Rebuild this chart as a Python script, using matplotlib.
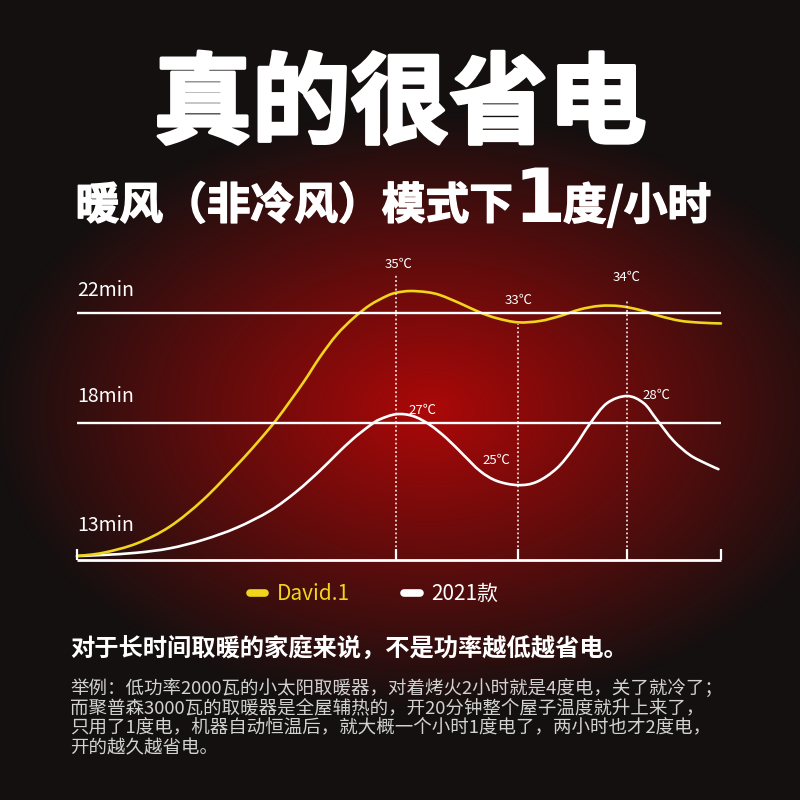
import matplotlib.pyplot as plt
import matplotlib.patheffects as pe
import numpy as np
from matplotlib.lines import Line2D
from matplotlib.path import Path
from matplotlib.patches import PathPatch

plt.rcParams['font.family'] = ['Noto Sans CJK SC', 'DejaVu Sans']

# time along the axis (0-100) and heat-up time in minutes
t_david = [0, 4.1, 9.3, 14.4, 19.6, 24.8, 27.9, 31.1, 35.1, 37.7, 40.3, 42.9, 45.5,
           48.1, 49.6, 51.7, 54.3, 56.4, 59.5, 62.6, 65.2, 68.5, 71.9, 75.0, 78.1, 81.2,
           84.3, 87.4, 90.5, 93.6, 96.7, 100]
min_david = [13.15, 13.27, 13.61, 14.22, 15.2, 16.45, 17.25, 18.15, 19.45, 20.38,
             21.19, 21.8, 22.28, 22.61, 22.73, 22.79, 22.75, 22.64, 22.34, 22.01, 21.8, 21.65,
             21.7, 21.88, 22.12, 22.25, 22.24, 22.1, 21.88, 21.71, 21.64, 21.61]
t_2021 = [0, 4.1, 9.3, 14.4, 19.6, 24.8, 30.0, 34.1, 37.7, 40.3, 42.9, 45.5, 47.0, 49.6, 52.2,
          54.8, 57.4, 60.0, 62.6, 65.2, 68.5, 71.4, 74.5, 77.1, 79.7, 82.3, 85.4, 88.0, 90.0,
          92.6, 95.2, 97.8, 99.6]
min_2021 = [13.15, 13.19, 13.27, 13.43, 13.74, 14.18, 14.8, 15.5, 16.25, 16.85, 17.42, 17.9,
            18.12, 18.31, 18.24, 17.92, 17.43, 16.83, 16.24, 15.88, 15.73, 15.85, 16.34, 17.07,
            17.98, 18.71, 18.97, 18.71, 18.12, 17.35, 16.82, 16.5, 16.31]

grid_min = [22, 18]
ylabels = ['22min', '18min', '13min']
ylabel_min = [22.8, 18.95, 14.25]
mark_t = [49.6, 68.5, 85.4]
mark_top = [23.37, 21.6, 22.46]
david_temps = ['35℃', '33℃', '34℃']
old_temps = ['27℃', '25℃', '28℃']
old_temp_at = [18.31, 15.73, 18.97]

series_names = ['David.1', '2021款']
yellow = '#f0d51c'

body_bold = '对于长时间取暖的家庭来说，不是功率越低越省电。'
body_lines = ['举例：低功率2000瓦的小太阳取暖器，对着烤火2小时就是4度电，关了就冷了；',
              '而聚普森3000瓦的取暖器是全屋辅热的，开20分钟整个屋子温度就升上来了，',
              '只用了1度电，机器自动恒温后，就大概一个小时1度电了，两小时也才2度电，',
              '开的越久越省电。']


def smooth_line(ax, x, y, **kw):
    # draw the read points joined by a smooth bezier path (catmull-rom style)
    p = np.column_stack([x, y])
    verts = [p[0]]
    codes = [Path.MOVETO]
    for i in range(len(p) - 1):
        p0 = p[i - 1] if i > 0 else p[i]
        p3 = p[i + 2] if i + 2 < len(p) else p[i + 1]
        c1 = p[i] + (p[i + 1] - p0) / 6.0
        c2 = p[i + 1] - (p3 - p[i]) / 6.0
        verts += [c1, c2, p[i + 1]]
        codes += [Path.CURVE4] * 3
    ax.add_patch(PathPatch(Path(verts, codes), fill=False, capstyle='round',
                           joinstyle='round', **kw))


fig = plt.figure(figsize=(8, 8), dpi=100)

# background: dark with a red glow in the middle
bg = fig.add_axes([0, 0, 1, 1])
yy, xx = np.mgrid[0:800, 0:800]
r = np.sqrt(((xx - 430) / 440.0) ** 2 + ((yy - 410) / 300.0) ** 2)
w = np.clip(1 - r, 0, 1) ** 1.0
center = np.array([172, 8, 8]) / 255.0
edge = np.array([20, 16, 16]) / 255.0
img = edge[None, None, :] + (center - edge)[None, None, :] * w[:, :, None]
bg.imshow(img, extent=[0, 800, 800, 0], aspect='auto')
bg.set_xlim(0, 800)
bg.set_ylim(800, 0)
bg.axis('off')

ax = fig.add_axes([60 / 800, 1 - 575 / 800, 680 / 800, 320 / 800])
ax.patch.set_alpha(0)
ax.set_xlim(-2.64, 102.95)
ax.set_ylim(12.46, 24.1)
ax.axis('off')

ax.hlines(grid_min, 0, 100, color='white', lw=1.7)
ax.hlines(13, 0, 100, color='white', lw=2)
ax.vlines([0] + mark_t + [100], 13, 13.4, color='white', lw=1.6)
ax.vlines(mark_t, 13, mark_top, color='white', lw=1.1, linestyles=(0, (1.2, 1.6)))

smooth_line(ax, t_2021, min_2021, edgecolor='white', lw=1.9)
smooth_line(ax, t_david, min_david, edgecolor=yellow, lw=1.9)

for lab, m in zip(ylabels, ylabel_min):
    ax.text(0, m, lab, color='white', fontsize=14, ha='left', va='center')

for lab, x, top in zip(david_temps, mark_t, mark_top):
    off = {'35℃': (2, 4), '33℃': (0, 17), '34℃': (0, 16)}[lab]
    ax.annotate(lab, (x, top), xytext=off, textcoords='offset pixels',
                color='white', fontsize=9.5, ha='center', va='bottom')
for lab, x, m in zip(old_temps, mark_t, old_temp_at):
    off = {'27℃': (26, 4), '25℃': (-22, 25), '28℃': (30, 1)}[lab]
    ax.annotate(lab, (x, m), xytext=off, textcoords='offset pixels',
                color='white', fontsize=9.5, ha='center', va='center')

# title and subtitle
fig.text(0.5, 1 - 106 / 800, '真的很省电', color='white', fontsize=71,
         weight='black', ha='center', va='center',
         path_effects=[pe.withStroke(linewidth=2.5, foreground='white')])
sub_fx = [pe.withStroke(linewidth=1.0, foreground='white')]
fig.text(513 / 800, 1 - 206 / 800, '暖风（非冷风）模式下', color='white', fontsize=31.5,
         weight='bold', ha='right', va='center', path_effects=sub_fx)
fig.text(540 / 800, 1 - 201 / 800, '1', color='white', fontsize=54,
         weight='bold', ha='center', va='center', family=['DejaVu Sans'])
fig.text(563 / 800, 1 - 206 / 800, '度/小时', color='white', fontsize=31.5,
         weight='bold', ha='left', va='center', path_effects=sub_fx)

# legend
handles = [Line2D([], [], color=yellow, lw=5.5, solid_capstyle='round'),
           Line2D([], [], color='white', lw=5.5, solid_capstyle='round')]
leg = fig.legend(handles, series_names, loc='center', bbox_to_anchor=(374 / 800, 1 - 594 / 800),
                 ncol=2, frameon=False, fontsize=15, handlelength=0.75, handletextpad=0.55,
                 columnspacing=2.6)
leg.get_texts()[0].set_color(yellow)
leg.get_texts()[1].set_color('white')

# notes below the chart
fig.text(70 / 800, 1 - 648 / 800, body_bold, color='white', fontsize=17.5,
         weight='bold', ha='left', va='center')
for i, line in enumerate(body_lines):
    fig.text(70 / 800, 1 - (688 + 20 * i) / 800, line, color='#d2d2d2', fontsize=13.3,
             ha='left', va='center')

fig.savefig('out.png', dpi=100)
